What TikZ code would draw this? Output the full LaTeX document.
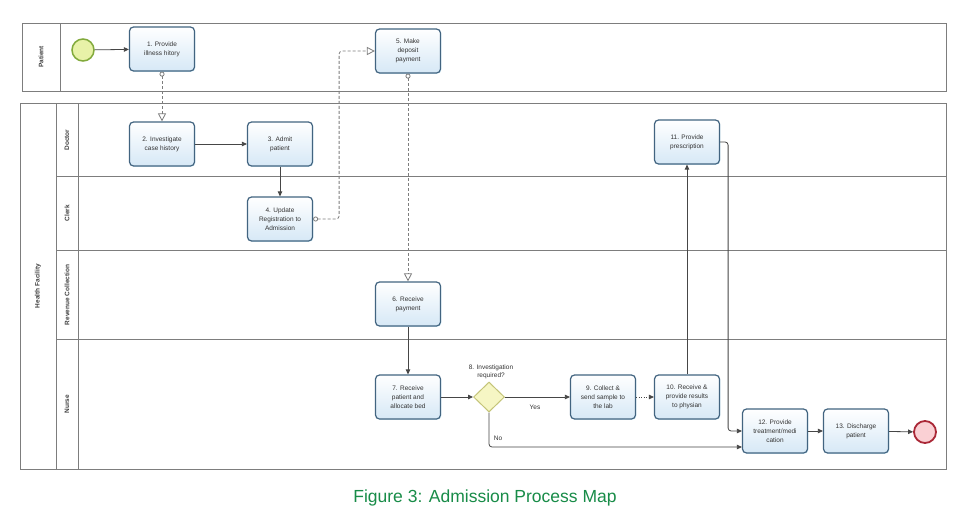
\documentclass[tikz,border=0pt]{standalone}
\usepackage{fontspec}
\setmainfont{Liberation Sans}
\usetikzlibrary{arrows.meta,shapes.geometric,shadows}
\definecolor{poolgray}{RGB}{125,125,125}
\definecolor{taskline}{RGB}{66,100,128}
\definecolor{taskfill}{RGB}{214,232,246}
\definecolor{gatefill}{RGB}{246,246,196}
\definecolor{gateline}{RGB}{196,196,120}
\definecolor{startfill}{RGB}{232,242,168}
\definecolor{startline}{RGB}{130,170,60}
\definecolor{endfill}{RGB}{250,208,212}
\definecolor{endline}{RGB}{170,40,55}
\definecolor{capgreen}{RGB}{24,140,72}
\definecolor{flowgray}{RGB}{70,70,70}
\begin{document}
\begin{tikzpicture}[x=1pt,y=-1pt,
task/.style={draw=taskline,line width=1.2pt,rounded corners=4pt,top color=white,bottom color=taskfill,minimum width=65pt,minimum height=44pt,inner sep=1pt,align=center,font=\fontsize{6.5}{9}\selectfont,text=black!80,drop shadow={shadow xshift=0.8pt,shadow yshift=-0.8pt,fill=cyan!25,opacity=0.6}},
pool/.style={draw=poolgray,line width=0.8pt},
lanetxt/.style={rotate=90,font=\fontsize{6.5}{8}\selectfont\bfseries,text=black!75},
lbl/.style={font=\fontsize{6.5}{8}\selectfont,text=black!80,align=center},
flow/.style={draw=flowgray,line width=0.8pt,rounded corners=3pt,-{Triangle[length=5pt,width=4.5pt]}},
msg/.style={draw=poolgray,line width=0.8pt,dash pattern=on 3pt off 2pt,rounded corners=3pt,{Circle[open,length=5pt,width=5pt]}-{Triangle[open,length=8pt,width=8pt]}}]
\fill[white] (0,0) rectangle (960,522);
\useasboundingbox (0,0) rectangle (960,522);
\draw[pool] (22,23) rectangle (946,91);
\draw[pool] (60,23) -- (60,91);
\node[lanetxt] (patient) at (41,57) {Patient};
\draw[pool] (20,103) rectangle (946,469);
\draw[pool] (56,103) -- (56,469);
\draw[pool] (78,103) -- (78,469);
\foreach \y in {176,250,339} \draw[pool] (56,\y) -- (946,\y);
\node[lanetxt] (health) at (38,286) {Health Facility};
\node[lanetxt] (doctor) at (67,140) {Doctor};
\node[lanetxt] (clerk) at (67,213) {Clerk};
\node[lanetxt] (revenue) at (67,295) {Revenue Collection};
\node[lanetxt] (nurse) at (67,404) {Nurse};
\node[draw=startline,fill=startfill,circle,line width=1.5pt,minimum size=22pt] (start) at (83,50) {};
\node[task] (t1) at (162,49) {1. Provide\\illness hitory};
\node[task] (t5) at (408,51) {5. Make\\deposit\\payment};
\node[task] (t2) at (162,144) {2. Investigate\\case history};
\node[task] (t3) at (280,144) {3. Admit\\patient};
\node[task] (t4) at (280,219) {4. Update\\Registration to\\Admission};
\node[task] (t11) at (687,142) {11. Provide\\prescription};
\node[task] (t6) at (408,304) {6. Receive\\payment};
\node[task] (t7) at (408,397) {7. Receive\\patient and\\allocate bed};
\node[diamond,draw=gateline,fill=gatefill,line width=1pt,minimum width=31pt,minimum height=30pt,inner sep=0pt] (g8) at (489,397) {};
\node[lbl] (q8) at (491,372) {8. Investigation\\required?};
\node[task] (t9) at (603,397) {9. Collect \&\\send sample to\\the lab};
\node[task] (t10) at (687,397) {10. Receive \&\\provide results\\to physian};
\node[task] (t12) at (775,431) {12. Provide\\treatment/medi\\cation};
\node[task] (t13) at (856,431) {13. Discharge\\patient};
\node[draw=endline,fill=endfill,circle,line width=1.8pt,minimum size=22pt] (stop) at (925,432) {};
\draw[flow] (start) -- (t1);
\draw[msg] (t1.south) -- (t2.north);
\draw[flow] (t2) -- (t3);
\draw[flow] (t3) -- (t4);
\draw[msg] (t4.east) -- ++(26,0) |- (t5.west);
\draw[msg] (t5.south) -- (t6.north);
\draw[flow] (t6) -- (t7);
\draw[flow] (t7) -- (g8);
\draw[flow] (g8) -- (t9);
\node[lbl] (yes) at (535,407) {Yes};
\draw[flow,dash pattern=on 1pt off 1.5pt] (t9) -- (t10);
\draw[flow] (t10) -- (t11);
\draw[flow] (t11.east) -- ++(8,0) |- (t12.west);
\draw[flow] (g8.south) |- ([yshift=-16pt]t12.west);
\node[lbl] (no) at (498,438) {No};
\draw[flow] (t12) -- (t13);
\draw[flow] (t13) -- (stop);
\node[font=\fontsize{17.5}{20}\selectfont,text=capgreen] (caption) at (485,498) {Figure 3: Admission Process Map};
\end{tikzpicture}
\end{document}
